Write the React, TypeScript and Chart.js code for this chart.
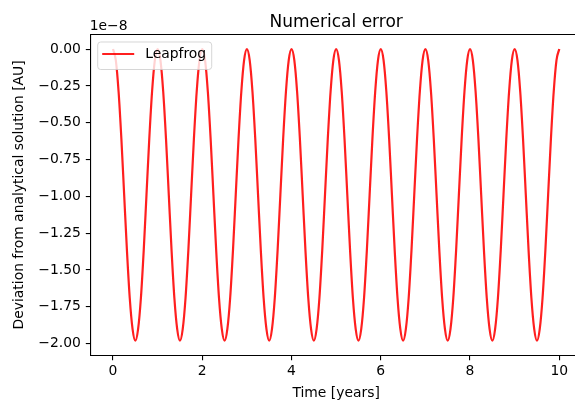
import React, { useEffect, useRef } from "react";
import { Chart, registerables } from "chart.js";

Chart.register(...registerables);

// Time in years (sampled every 1/16 year)
const times: number[] = [
  0, 0.0625, 0.125, 0.1875, 0.25, 0.3125, 0.375, 0.4375, 0.5, 0.5625, 0.625, 0.6875, 0.75, 0.8125, 0.875, 0.9375,
  1, 1.0625, 1.125, 1.1875, 1.25, 1.3125, 1.375, 1.4375, 1.5, 1.5625, 1.625, 1.6875, 1.75, 1.8125, 1.875, 1.9375,
  2, 2.0625, 2.125, 2.1875, 2.25, 2.3125, 2.375, 2.4375, 2.5, 2.5625, 2.625, 2.6875, 2.75, 2.8125, 2.875, 2.9375,
  3, 3.0625, 3.125, 3.1875, 3.25, 3.3125, 3.375, 3.4375, 3.5, 3.5625, 3.625, 3.6875, 3.75, 3.8125, 3.875, 3.9375,
  4, 4.0625, 4.125, 4.1875, 4.25, 4.3125, 4.375, 4.4375, 4.5, 4.5625, 4.625, 4.6875, 4.75, 4.8125, 4.875, 4.9375,
  5, 5.0625, 5.125, 5.1875, 5.25, 5.3125, 5.375, 5.4375, 5.5, 5.5625, 5.625, 5.6875, 5.75, 5.8125, 5.875, 5.9375,
  6, 6.0625, 6.125, 6.1875, 6.25, 6.3125, 6.375, 6.4375, 6.5, 6.5625, 6.625, 6.6875, 6.75, 6.8125, 6.875, 6.9375,
  7, 7.0625, 7.125, 7.1875, 7.25, 7.3125, 7.375, 7.4375, 7.5, 7.5625, 7.625, 7.6875, 7.75, 7.8125, 7.875, 7.9375,
  8, 8.0625, 8.125, 8.1875, 8.25, 8.3125, 8.375, 8.4375, 8.5, 8.5625, 8.625, 8.6875, 8.75, 8.8125, 8.875, 8.9375,
  9, 9.0625, 9.125, 9.1875, 9.25, 9.3125, 9.375, 9.4375, 9.5, 9.5625, 9.625, 9.6875, 9.75, 9.8125, 9.875, 9.9375,
  10,
];

// Deviation in units of 1e-8 AU
const leapfrog: number[] = [
  0, -0.075, -0.29, -0.61, -0.99, -1.37, -1.69, -1.90, -1.98, -1.90, -1.69, -1.37, -0.99, -0.61, -0.29, -0.075,
  0, -0.075, -0.29, -0.61, -0.99, -1.37, -1.69, -1.90, -1.98, -1.90, -1.69, -1.37, -0.99, -0.61, -0.29, -0.075,
  0, -0.075, -0.29, -0.61, -0.99, -1.37, -1.69, -1.90, -1.98, -1.90, -1.69, -1.37, -0.99, -0.61, -0.29, -0.075,
  0, -0.075, -0.29, -0.61, -0.99, -1.37, -1.69, -1.90, -1.98, -1.90, -1.69, -1.37, -0.99, -0.61, -0.29, -0.075,
  0, -0.075, -0.29, -0.61, -0.99, -1.37, -1.69, -1.90, -1.98, -1.90, -1.69, -1.37, -0.99, -0.61, -0.29, -0.075,
  0, -0.075, -0.29, -0.61, -0.99, -1.37, -1.69, -1.90, -1.98, -1.90, -1.69, -1.37, -0.99, -0.61, -0.29, -0.075,
  0, -0.075, -0.29, -0.61, -0.99, -1.37, -1.69, -1.90, -1.98, -1.90, -1.69, -1.37, -0.99, -0.61, -0.29, -0.075,
  0, -0.075, -0.29, -0.61, -0.99, -1.37, -1.69, -1.90, -1.98, -1.90, -1.69, -1.37, -0.99, -0.61, -0.29, -0.075,
  0, -0.075, -0.29, -0.61, -0.99, -1.37, -1.69, -1.90, -1.98, -1.90, -1.69, -1.37, -0.99, -0.61, -0.29, -0.075,
  0, -0.075, -0.29, -0.61, -0.99, -1.37, -1.69, -1.90, -1.98, -1.90, -1.69, -1.37, -0.99, -0.61, -0.29, -0.075,
  0,
];

const xTickValues: number[] = [0, 2, 4, 6, 8, 10];
const yTickValues: number[] = [0, -0.25, -0.5, -0.75, -1, -1.25, -1.5, -1.75, -2];

const titleText = "Numerical error";
const xLabel = "Time [years]";
const yLabel = "Deviation from analytical solution [AU]";
const offsetText = "1e\u22128";
const seriesLabel = "Leapfrog";

const FONT = "'DejaVu Sans', sans-serif";

const decorPlugin = {
  id: "decor",
  afterDatasetsDraw(chart: any) {
    const { ctx, chartArea } = chart;
    const { left, top, right } = chartArea;
    ctx.save();
    // top spine
    ctx.strokeStyle = "#000";
    ctx.lineWidth = 1.1;
    ctx.beginPath();
    ctx.moveTo(left - 0.5, top);
    ctx.lineTo(right + 0.5, top);
    ctx.stroke();

    // legend
    const bx = left + 7, by = top + 7.5, bw = 114, bh = 27.5, r = 3;
    ctx.beginPath();
    ctx.moveTo(bx + r, by);
    ctx.lineTo(bx + bw - r, by);
    ctx.quadraticCurveTo(bx + bw, by, bx + bw, by + r);
    ctx.lineTo(bx + bw, by + bh - r);
    ctx.quadraticCurveTo(bx + bw, by + bh, bx + bw - r, by + bh);
    ctx.lineTo(bx + r, by + bh);
    ctx.quadraticCurveTo(bx, by + bh, bx, by + bh - r);
    ctx.lineTo(bx, by + r);
    ctx.quadraticCurveTo(bx, by, bx + r, by);
    ctx.closePath();
    ctx.fillStyle = "rgba(255,255,255,0.8)";
    ctx.fill();
    ctx.strokeStyle = "rgba(204,204,204,0.8)";
    ctx.lineWidth = 1;
    ctx.stroke();
    const ds = chart.data.datasets[0];
    const ly = by + 12;
    ctx.strokeStyle = ds.borderColor;
    ctx.lineWidth = ds.borderWidth;
    ctx.beginPath();
    ctx.moveTo(bx + 4.5, ly);
    ctx.lineTo(bx + 36.5, ly);
    ctx.stroke();
    ctx.fillStyle = "#000";
    ctx.font = `13.9px ${FONT}`;
    ctx.textAlign = "left";
    ctx.textBaseline = "middle";
    ctx.fillText(ds.label, bx + 47.5, ly + 0.5);
    ctx.restore();
  },
  afterDraw(chart: any) {
    const { ctx, chartArea } = chart;
    const { left, top, right, bottom } = chartArea;
    const cx = (left + right) / 2;
    ctx.save();
    ctx.fillStyle = "#000";
    // title
    ctx.font = `17px ${FONT}`;
    ctx.textAlign = "center";
    ctx.textBaseline = "alphabetic";
    ctx.fillText(titleText, cx, 26.5);
    // offset text
    ctx.font = `13.9px ${FONT}`;
    ctx.textAlign = "left";
    ctx.fillText(offsetText, left - 1, 30);
    // x label
    ctx.textAlign = "center";
    ctx.fillText(xLabel, cx, 397);
    // y label
    ctx.save();
    ctx.translate(22.5, (top + bottom) / 2);
    ctx.rotate(-Math.PI / 2);
    ctx.textAlign = "center";
    ctx.textBaseline = "alphabetic";
    ctx.fillText(yLabel, 0, 0);
    ctx.restore();
    ctx.restore();
  },
};

export default function App() {
  const ref = useRef<HTMLCanvasElement | null>(null);

  useEffect(() => {
    if (!ref.current) return;
    const chart = new Chart(ref.current, {
      type: "line",
      data: {
        datasets: [
          {
            label: seriesLabel,
            data: times.map((t, i) => ({ x: t, y: leapfrog[i] })),
            borderColor: "rgba(255,0,0,0.88)",
            borderWidth: 2.2,
            pointRadius: 0,
            fill: false,
            cubicInterpolationMode: "monotone",
          },
        ],
      },
      options: {
        animation: false,
        responsive: false,
        devicePixelRatio: 1,
        layout: { padding: { left: 0, top: 34.5, right: 10.4, bottom: 0 } },
        plugins: {
          legend: { display: false },
          title: { display: false },
          tooltip: { enabled: false },
        },
        scales: {
          x: {
            type: "linear",
            min: -0.5,
            max: 10.5,
            afterFit: (s: any) => {
              s.height = 47.7;
            },
            afterBuildTicks: (s: any) => {
              s.ticks = xTickValues.map((v) => ({ value: v }));
            },
            border: { display: true, color: "#000", width: 1.1 },
            grid: {
              display: true,
              drawOnChartArea: false,
              drawTicks: true,
              tickLength: 4.9,
              color: "#000",
              lineWidth: 1.1,
            },
            ticks: {
              color: "#000",
              font: { family: FONT, size: 13.9 },
              padding: 3,
              maxRotation: 0,
              autoSkip: false,
              callback: (v: any) => String(v),
            },
          },
          y: {
            type: "linear",
            min: -2.079,
            max: 0.099,
            afterFit: (s: any) => {
              s.width = 90.7;
            },
            afterBuildTicks: (s: any) => {
              s.ticks = yTickValues.map((v) => ({ value: v }));
            },
            border: { display: true, color: "#000", width: 1.1 },
            grid: {
              display: true,
              drawOnChartArea: false,
              drawTicks: true,
              tickLength: 4.9,
              color: "#000",
              lineWidth: 1.1,
            },
            ticks: {
              color: "#000",
              font: { family: FONT, size: 13.9 },
              padding: 4.9,
              autoSkip: false,
              callback: (v: any) => Number(v).toFixed(2).replace("-", "\u2212"),
            },
          },
        },
      },
      plugins: [decorPlugin],
    } as any);
    return () => chart.destroy();
  }, []);

  return (
    <div
      style={{
        position: "fixed",
        left: 0,
        top: 0,
        width: 575,
        height: 403,
        overflow: "hidden",
        background: "#fff",
      }}
    >
      <canvas ref={ref} width={592} height={403} style={{ width: 592, height: 403, display: "block" }} />
    </div>
  );
}
